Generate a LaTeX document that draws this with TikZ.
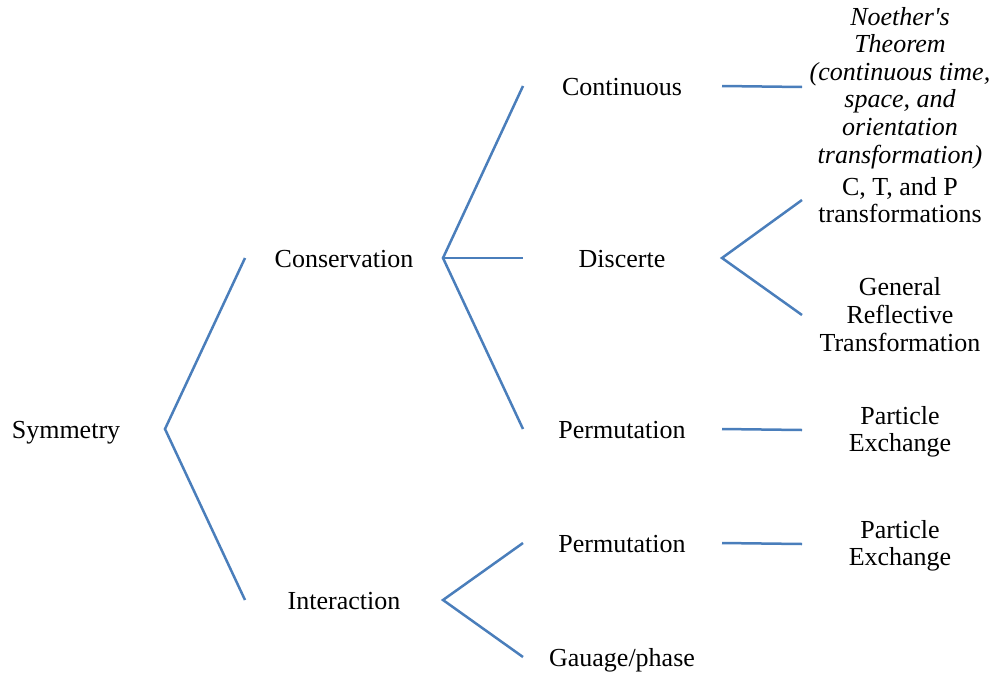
\documentclass[tikz,border=0pt]{standalone}
\usepackage{fontspec}
\setmainfont{Liberation Serif}
\newfontfamily\plainserif{Liberation Serif}
\begin{document}
\begin{tikzpicture}[x=1pt,y=-1pt,
  lbl/.style={anchor=base,inner sep=0pt,align=center,font=\fontsize{26}{27.6}\selectfont},
  conn/.style={draw=linecol,line width=2.5pt}]
\definecolor{linecol}{HTML}{4A7EBB}
\useasboundingbox (0,0) rectangle (993,672);
% text nodes (base anchor = baseline of last line)
\node[lbl] (sym) at (66,438) {Symmetry};
\node[lbl] (cons) at (344,267) {Conservation};
\node[lbl] (inter) at (344,609) {Interaction};
\node[lbl] (cont) at (622,95) {Continuous};
\node[lbl] (disc) at (622,267) {Discerte};
\node[lbl] (perm1) at (622,438) {Permutation};
\node[lbl] (perm2) at (622,552) {Permutation};
\node[lbl] (gauge) at (622,666) {Gauage/phase};
\node[lbl,font=\fontsize{26}{27.6}\selectfont\plainserif\itshape] (noether) at (900,163) {Noether's\\Theorem\\(continuous time,\\space, and\\orientation\\transformation)};
\node[lbl] (ctp) at (900,222.6) {C, T, and P\\transformations};
\node[lbl] (gen) at (900,351) {General\\Reflective\\Transformation};
\node[lbl] (pe1) at (900,451.6) {Particle\\Exchange};
\node[lbl] (pe2) at (900,565.6) {Particle\\Exchange};
% connector points
\coordinate (s0) at (165,429);
\coordinate (s1) at (245,258);
\coordinate (s2) at (245,600);
\coordinate (c0) at (443,258);
\coordinate (c1) at (523,86);
\coordinate (c2) at (523,258);
\coordinate (c3) at (523,429);
\coordinate (i0) at (443,600);
\coordinate (i1) at (523,543);
\coordinate (i2) at (523,657);
\coordinate (n0) at (722,86);
\coordinate (n1) at (802,87);
\coordinate (d0) at (722,258);
\coordinate (d1) at (802,200);
\coordinate (d2) at (802,315);
\coordinate (p0) at (722,429);
\coordinate (p1) at (802,430);
\coordinate (q0) at (722,543);
\coordinate (q1) at (802,544);
% connectors
\draw[conn] (s1) -- (s0) -- (s2);
\draw[conn] (c1) -- (c0) -- (c3);
\draw[conn] (c0) -- (c2);
\draw[conn] (i1) -- (i0) -- (i2);
\draw[conn] (n0) -- (n1);
\draw[conn] (d1) -- (d0) -- (d2);
\draw[conn] (p0) -- (p1);
\draw[conn] (q0) -- (q1);
\end{tikzpicture}
\end{document}
